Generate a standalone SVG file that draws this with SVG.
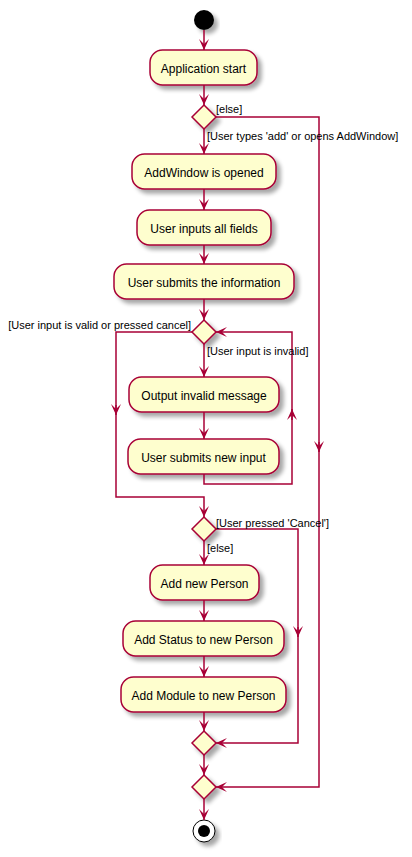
<svg xmlns="http://www.w3.org/2000/svg" width="412" height="857" viewBox="0 0 412 857">
<defs>
<filter id="sh" x="-20%" y="-20%" width="150%" height="160%">
<feGaussianBlur in="SourceAlpha" stdDeviation="2"/>
<feOffset dx="4" dy="4" result="b"/>
<feComponentTransfer><feFuncA type="linear" slope="0.35"/></feComponentTransfer>
<feMerge><feMergeNode/><feMergeNode in="SourceGraphic"/></feMerge>
</filter>
<marker id="ah" viewBox="0 0 11 10" refX="11" refY="5" markerWidth="11" markerHeight="10" markerUnits="userSpaceOnUse" orient="auto">
<polygon points="0,0 11,5 0,10 5,5" fill="#A80036"/>
</marker>
</defs>
<style>
.act{fill:#FEFECE;stroke:#A80036;stroke-width:1.5;filter:url(#sh)}
.dia{fill:#FEFECE;stroke:#A80036;stroke-width:1.5;filter:url(#sh)}
.t{font-family:"Liberation Sans",Arial,sans-serif;font-size:12px;fill:#000;text-anchor:middle}
.l{font-family:"Liberation Sans",Arial,sans-serif;font-size:11px;fill:#000}
.c{fill:none;stroke:#A80036;stroke-width:1.5}
</style>
<rect width="412" height="857" fill="#fff"/>
<g id="start"><circle cx="204" cy="20" r="10" fill="#000" filter="url(#sh)"/></g>
<g id="n1"><rect class="act" x="150" y="50" width="107" height="35" rx="12.5"/><text class="t" x="203.5" y="72.5">Application start</text></g>
<g id="d1"><polygon class="dia" points="204,105 216,117 204,129 192,117"/></g>
<g id="n2"><rect class="act" x="132" y="154" width="144" height="35" rx="12.5"/><text class="t" x="204" y="176.5">AddWindow is opened</text></g>
<g id="n3"><rect class="act" x="137" y="210" width="134" height="35" rx="12.5"/><text class="t" x="204" y="232.5">User inputs all fields</text></g>
<g id="n4"><rect class="act" x="114" y="264" width="180" height="35" rx="12.5"/><text class="t" x="204" y="286.5">User submits the information</text></g>
<g id="d2"><polygon class="dia" points="204,320 216,332 204,344 192,332"/></g>
<g id="n5"><rect class="act" x="129" y="377" width="150" height="35" rx="12.5"/><text class="t" x="204" y="399.5">Output invalid message</text></g>
<g id="n6"><rect class="act" x="128" y="439" width="151" height="35" rx="12.5"/><text class="t" x="203.5" y="461.5">User submits new input</text></g>
<g id="d3"><polygon class="dia" points="204,517 216,529 204,541 192,529"/></g>
<g id="n7"><rect class="act" x="150" y="565" width="109" height="35" rx="12.5"/><text class="t" x="204.5" y="587.5">Add new Person</text></g>
<g id="n8"><rect class="act" x="123" y="621" width="161" height="35" rx="12.5"/><text class="t" x="203.5" y="643.5">Add Status to new Person</text></g>
<g id="n9"><rect class="act" x="121" y="677" width="165" height="35" rx="12.5"/><text class="t" x="203.5" y="699.5">Add Module to new Person</text></g>
<g id="d4"><polygon class="dia" points="204,731 216,743 204,755 192,743"/></g>
<g id="d5"><polygon class="dia" points="204,775 216,787 204,799 192,787"/></g>
<g id="end"><circle cx="204" cy="831" r="11" fill="#fff" stroke="#000" stroke-width="1" filter="url(#sh)"/><circle cx="204" cy="831" r="6" fill="#000"/></g>
<g id="connectors">
<line class="c" x1="204" y1="30" x2="204" y2="50" marker-end="url(#ah)"/>
<line class="c" x1="204" y1="85" x2="204" y2="105" marker-end="url(#ah)"/>
<line class="c" x1="204" y1="129" x2="204" y2="154" marker-end="url(#ah)"/>
<line class="c" x1="204" y1="189" x2="204" y2="210" marker-end="url(#ah)"/>
<line class="c" x1="204" y1="245" x2="204" y2="264" marker-end="url(#ah)"/>
<line class="c" x1="204" y1="299" x2="204" y2="320" marker-end="url(#ah)"/>
<line class="c" x1="204" y1="344" x2="204" y2="377" marker-end="url(#ah)"/>
<line class="c" x1="204" y1="412" x2="204" y2="439" marker-end="url(#ah)"/>
<polyline class="c" points="204,474 204,484 292,484 292,409"/>
<line class="c" x1="292" y1="420" x2="292" y2="409" marker-end="url(#ah)"/>
<polyline class="c" points="292,409 292,332 216,332" marker-end="url(#ah)"/>
<polyline class="c" points="192,332 116,332 116,415"/>
<line class="c" x1="116" y1="405" x2="116" y2="415" marker-end="url(#ah)"/>
<polyline class="c" points="116,415 116,497 204,497 204,517" marker-end="url(#ah)"/>
<line class="c" x1="204" y1="541" x2="204" y2="565" marker-end="url(#ah)"/>
<line class="c" x1="204" y1="600" x2="204" y2="621" marker-end="url(#ah)"/>
<line class="c" x1="204" y1="656" x2="204" y2="677" marker-end="url(#ah)"/>
<line class="c" x1="204" y1="712" x2="204" y2="731" marker-end="url(#ah)"/>
<polyline class="c" points="216,529 298,529 298,637"/>
<line class="c" x1="298" y1="627" x2="298" y2="637" marker-end="url(#ah)"/>
<polyline class="c" points="298,637 298,743 216,743" marker-end="url(#ah)"/>
<line class="c" x1="204" y1="755" x2="204" y2="775" marker-end="url(#ah)"/>
<polyline class="c" points="216,117 319,117 319,452"/>
<line class="c" x1="319" y1="442" x2="319" y2="452" marker-end="url(#ah)"/>
<polyline class="c" points="319,452 319,787 216,787" marker-end="url(#ah)"/>
<line class="c" x1="204" y1="799" x2="204" y2="820" marker-end="url(#ah)"/>
<text class="l" x="216" y="113">[else]</text>
<text class="l" x="207" y="140">[User types 'add' or opens AddWindow]</text>
<text class="l" x="191" y="329" text-anchor="end">[User input is valid or pressed cancel]</text>
<text class="l" x="207" y="355">[User input is invalid]</text>
<text class="l" x="216" y="527">[User pressed 'Cancel']</text>
<text class="l" x="207" y="552">[else]</text>
</g>
</svg>
